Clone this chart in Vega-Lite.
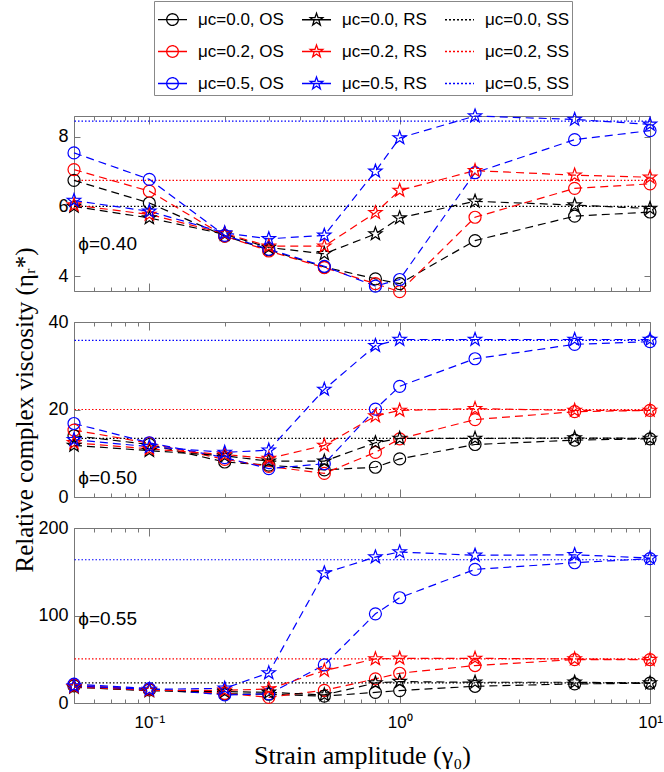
{
  "$schema": "https://vega.github.io/schema/vega-lite/v6.json",
  "padding": {"left": 12, "top": 0, "right": 5, "bottom": 5},
  "datasets": {
    "d": [
      {"p": "0.40", "s": "μc=0.0, OS", "x": [0.05,0.1,0.2,0.3,0.5,0.8,1,2,5,10], "y": [6.75,6.10,5.15,4.75,4.26,3.92,3.78,5.02,5.72,5.84]},
      {"p": "0.40", "s": "μc=0.2, OS", "x": [0.05,0.1,0.2,0.3,0.5,0.8,1,2,5,10], "y": [7.06,6.44,5.15,4.72,4.24,3.78,3.55,5.69,6.52,6.65]},
      {"p": "0.40", "s": "μc=0.5, OS", "x": [0.05,0.1,0.2,0.3,0.5,0.8,1,2,5,10], "y": [7.54,6.78,5.17,4.77,4.28,3.71,3.90,6.97,7.92,8.18]},
      {"p": "0.40", "s": "μc=0.0, RS", "x": [0.05,0.1,0.2,0.3,0.5,0.8,1,2,5,10], "y": [6.00,5.67,5.20,4.82,4.64,5.21,5.67,6.15,6.04,5.94]},
      {"p": "0.40", "s": "μc=0.2, RS", "x": [0.05,0.1,0.2,0.3,0.5,0.8,1,2,5,10], "y": [6.04,5.77,5.22,4.86,4.86,5.82,6.46,7.03,6.90,6.84]},
      {"p": "0.40", "s": "μc=0.5, RS", "x": [0.05,0.1,0.2,0.3,0.5,0.8,1,2,5,10], "y": [6.17,5.86,5.24,5.07,5.17,7.01,7.97,8.60,8.50,8.36]},
      {"p": "0.50", "s": "μc=0.0, OS", "x": [0.05,0.1,0.2,0.3,0.5,0.8,1,2,5,10], "y": [14.0,12.0,8.0,7.3,6.2,6.8,8.7,12.0,13.0,13.3]},
      {"p": "0.50", "s": "μc=0.2, OS", "x": [0.05,0.1,0.2,0.3,0.5,0.8,1,2,5,10], "y": [15.3,12.3,8.6,7.0,5.4,10.2,13.3,17.7,19.5,19.8]},
      {"p": "0.50", "s": "μc=0.5, OS", "x": [0.05,0.1,0.2,0.3,0.5,0.8,1,2,5,10], "y": [16.8,12.4,9.0,6.5,7.6,20.1,25.3,31.6,34.9,35.5]},
      {"p": "0.50", "s": "μc=0.0, RS", "x": [0.05,0.1,0.2,0.3,0.5,0.8,1,2,5,10], "y": [11.8,10.6,9.4,8.2,8.2,12.4,13.4,13.4,13.5,13.4]},
      {"p": "0.50", "s": "μc=0.2, RS", "x": [0.05,0.1,0.2,0.3,0.5,0.8,1,2,5,10], "y": [12.4,11.0,9.7,8.8,11.8,18.5,19.8,20.2,19.8,19.8]},
      {"p": "0.50", "s": "μc=0.5, RS", "x": [0.05,0.1,0.2,0.3,0.5,0.8,1,2,5,10], "y": [13.1,11.5,10.2,10.7,24.6,34.6,36.0,36.0,36.0,36.0]},
      {"p": "0.55", "s": "μc=0.0, OS", "x": [0.05,0.1,0.2,0.3,0.5,0.8,1,2,5,10], "y": [19.5,15.0,10.5,10.0,7.8,12.2,14.2,19.1,21.8,22.6]},
      {"p": "0.55", "s": "μc=0.2, OS", "x": [0.05,0.1,0.2,0.3,0.5,0.8,1,2,5,10], "y": [20.5,15.5,11.0,6.5,14.5,27.5,34.0,42.8,49.6,49.6]},
      {"p": "0.55", "s": "μc=0.5, OS", "x": [0.05,0.1,0.2,0.3,0.5,0.8,1,2,5,10], "y": [21.5,16.5,9.2,10.5,43.5,101.9,120.3,152.7,160.3,165.0]},
      {"p": "0.55", "s": "μc=0.0, RS", "x": [0.05,0.1,0.2,0.3,0.5,0.8,1,2,5,10], "y": [18.0,14.0,13.0,12.2,9.2,22.9,24.5,23.7,23.7,22.9]},
      {"p": "0.55", "s": "μc=0.2, RS", "x": [0.05,0.1,0.2,0.3,0.5,0.8,1,2,5,10], "y": [18.5,14.5,14.5,16.0,37.1,50.4,51.1,51.0,50.4,49.6]},
      {"p": "0.55", "s": "μc=0.5, RS", "x": [0.05,0.1,0.2,0.3,0.5,0.8,1,2,5,10], "y": [19.5,15.5,16.8,34.4,148.5,166.8,172.6,168.8,169.4,165.7]}
    ],
    "ss": [
      {"p": "0.40", "s": "μc=0.0, SS", "y": 6.0},
      {"p": "0.40", "s": "μc=0.2, SS", "y": 6.75},
      {"p": "0.40", "s": "μc=0.5, SS", "y": 8.45},
      {"p": "0.50", "s": "μc=0.0, SS", "y": 13.4},
      {"p": "0.50", "s": "μc=0.2, SS", "y": 20.0},
      {"p": "0.50", "s": "μc=0.5, SS", "y": 35.8},
      {"p": "0.55", "s": "μc=0.0, SS", "y": 22.9},
      {"p": "0.55", "s": "μc=0.2, SS", "y": 50.4},
      {"p": "0.55", "s": "μc=0.5, SS", "y": 163.7}
    ],
    "notes": [
      {"p": "0.40", "x": 0.052, "y": 4.92, "t": "ϕ=0.40"},
      {"p": "0.50", "x": 0.052, "y": 4.35, "t": "ϕ=0.50"},
      {"p": "0.55", "x": 0.052, "y": 96, "t": "ϕ=0.55"}
    ]
  },
  "spacing": 31,
  "bounds": "flush",
  "resolve": {"scale": {"color": "independent"}, "legend": {"color": "independent"}},
  "vconcat": [
    {
      "width": 576, "height": 175,
      "resolve": {"axis": {"x": "independent", "y": "independent"}},
      "layer": [
        {
          "data": {"name": "ss"},
          "transform": [{"filter": "datum.p == '0.40'"}],
          "mark": {"type": "rule", "strokeDash": [1.5, 2], "strokeWidth": 1.2},
          "encoding": {
            "y": {"field": "y", "type": "quantitative", "scale": {"domain": [3.57, 8.6], "nice": false, "zero": false}, "axis": {"values": [4, 6, 8], "title": null}},
            "color": {"field": "s", "type": "nominal",
              "scale": {"domain": ["μc=0.0, OS","μc=0.2, OS","μc=0.5, OS","μc=0.0, RS","μc=0.2, RS","μc=0.5, RS","μc=0.0, SS","μc=0.2, SS","μc=0.5, SS"], "range": ["#000000","#ff0000","#0000ff","#000000","#ff0000","#0000ff","#000000","#ff0000","#0000ff"]},
              "legend": {
                "orient": "none", "legendX": 80, "legendY": -115, "columns": 3, "title": null,
                "symbolSize": 841, "symbolStrokeWidth": 1.3, "labelFont": "Liberation Sans", "labelFontSize": 17, "labelColor": "#000000",
                "labelOffset": 10, "columnPadding": 15, "rowPadding": 8, "padding": 3, "strokeColor": "#888888", "fillColor": "#ffffff", "labelLimit": 0,
                "encode": {"symbols": {"update": {
                  "shape": {"signal": "indexof(datum.value, 'OS') >= 0 ? 'M-1,0L1,0M0.4,0A0.4,0.4,0,1,1,-0.4,0A0.4,0.4,0,1,1,0.4,0' : indexof(datum.value, 'RS') >= 0 ? 'M-1,0L1,0M0,-0.45L0.106,-0.146L0.428,-0.139L0.171,0.056L0.265,0.364L0,0.18L-0.265,0.364L-0.171,0.056L-0.428,-0.139L-0.106,-0.146Z' : 'M-1,0L1,0'"},
                  "strokeDash": {"signal": "indexof(datum.value, 'SS') >= 0 ? [2, 2] : [1, 0]"},
                  "fill": {"value": "transparent"}
                }}}
              }
            }
          }
        },
        {
          "data": {"name": "d"},
          "transform": [{"filter": "datum.p == '0.40'"}, {"flatten": ["x", "y"]}],
          "mark": {"type": "line", "strokeDash": [8, 5], "strokeWidth": 1.2},
          "encoding": {
            "x": {"field": "x", "type": "quantitative", "scale": {"type": "log", "domain": [0.05, 10], "nice": false},
              "axis": {"values": [0.05,0.06,0.07,0.08,0.09,0.1,0.2,0.3,0.4,0.5,0.6,0.7,0.8,0.9,1,2,3,4,5,6,7,8,9,10], "labels": false, "title": null,
                "tickSize": {"condition": {"test": "datum.value == 0.1 || datum.value == 1 || datum.value == 10", "value": -8}, "value": -4}}},
            "y": {"field": "y", "type": "quantitative", "axis": null},
            "color": {"field": "s", "type": "nominal"}
          }
        },
        {
          "data": {"name": "d"},
          "transform": [{"filter": "datum.p == '0.40' && indexof(datum.s, 'OS') >= 0"}, {"flatten": ["x", "y"]}],
          "mark": {"type": "point", "shape": "circle", "filled": false, "size": 144, "strokeWidth": 1.2, "opacity": 1},
          "encoding": {"x": {"field": "x", "type": "quantitative", "axis": null}, "y": {"field": "y", "type": "quantitative", "axis": null}, "color": {"field": "s", "type": "nominal"}}
        },
        {
          "data": {"name": "d"},
          "transform": [{"filter": "datum.p == '0.40' && indexof(datum.s, 'RS') >= 0"}, {"flatten": ["x", "y"]}],
          "mark": {"type": "point", "shape": "M0,-1L0.235,-0.324L0.951,-0.309L0.38,0.124L0.588,0.809L0,0.4L-0.588,0.809L-0.38,0.124L-0.951,-0.309L-0.235,-0.324Z", "filled": false, "size": 196, "strokeWidth": 1.2, "opacity": 1},
          "encoding": {"x": {"field": "x", "type": "quantitative", "axis": null}, "y": {"field": "y", "type": "quantitative", "axis": null}, "color": {"field": "s", "type": "nominal"}}
        },
        {
          "data": {"name": "notes"},
          "transform": [{"filter": "datum.p == '0.40'"}],
          "mark": {"type": "text", "align": "left", "baseline": "middle", "font": "Liberation Sans", "fontSize": 19, "color": "#000000"},
          "encoding": {"x": {"field": "x", "type": "quantitative", "axis": null}, "y": {"field": "y", "type": "quantitative", "axis": null}, "text": {"field": "t"}}
        },
        {
          "data": {"name": "notes"},
          "transform": [{"filter": "datum.p == '0.40'"}],
          "mark": {"type": "point", "opacity": 0},
          "encoding": {
            "x": {"field": "x", "type": "quantitative", "axis": {"orient": "top", "values": [0.05,0.06,0.07,0.08,0.09,0.1,0.2,0.3,0.4,0.5,0.6,0.7,0.8,0.9,1,2,3,4,5,6,7,8,9,10], "labels": false, "title": null,
                "tickSize": {"condition": {"test": "datum.value == 0.1 || datum.value == 1 || datum.value == 10", "value": -8}, "value": -4}}},
            "y": {"field": "y", "type": "quantitative", "axis": {"orient": "right", "values": [4, 6, 8], "labels": false, "title": null}}
          }
        }
      ]
    },
    {
      "width": 576, "height": 175,
      "resolve": {"axis": {"x": "independent", "y": "independent"}},
      "layer": [
        {
          "data": {"name": "ss"},
          "transform": [{"filter": "datum.p == '0.50'"}],
          "mark": {"type": "rule", "strokeDash": [1.5, 2], "strokeWidth": 1.2},
          "encoding": {
            "y": {"field": "y", "type": "quantitative", "scale": {"domain": [0, 40], "nice": false}, "axis": {"values": [0, 20, 40], "title": "Relative complex viscosity (ηᵣ*)", "titlePadding": 10, "titleFontSize": 25}},
            "color": {"field": "s", "type": "nominal",
              "scale": {"domain": ["μc=0.0, OS","μc=0.2, OS","μc=0.5, OS","μc=0.0, RS","μc=0.2, RS","μc=0.5, RS","μc=0.0, SS","μc=0.2, SS","μc=0.5, SS"], "range": ["#000000","#ff0000","#0000ff","#000000","#ff0000","#0000ff","#000000","#ff0000","#0000ff"]},
              "legend": null}
          }
        },
        {
          "data": {"name": "d"},
          "transform": [{"filter": "datum.p == '0.50'"}, {"flatten": ["x", "y"]}],
          "mark": {"type": "line", "strokeDash": [8, 5], "strokeWidth": 1.2},
          "encoding": {
            "x": {"field": "x", "type": "quantitative", "scale": {"type": "log", "domain": [0.05, 10], "nice": false},
              "axis": {"values": [0.05,0.06,0.07,0.08,0.09,0.1,0.2,0.3,0.4,0.5,0.6,0.7,0.8,0.9,1,2,3,4,5,6,7,8,9,10], "labels": false, "title": null,
                "tickSize": {"condition": {"test": "datum.value == 0.1 || datum.value == 1 || datum.value == 10", "value": -8}, "value": -4}}},
            "y": {"field": "y", "type": "quantitative", "axis": null},
            "color": {"field": "s", "type": "nominal", "legend": null}
          }
        },
        {
          "data": {"name": "d"},
          "transform": [{"filter": "datum.p == '0.50' && indexof(datum.s, 'OS') >= 0"}, {"flatten": ["x", "y"]}],
          "mark": {"type": "point", "shape": "circle", "filled": false, "size": 144, "strokeWidth": 1.2, "opacity": 1},
          "encoding": {"x": {"field": "x", "type": "quantitative", "axis": null}, "y": {"field": "y", "type": "quantitative", "axis": null}, "color": {"field": "s", "type": "nominal", "legend": null}}
        },
        {
          "data": {"name": "d"},
          "transform": [{"filter": "datum.p == '0.50' && indexof(datum.s, 'RS') >= 0"}, {"flatten": ["x", "y"]}],
          "mark": {"type": "point", "shape": "M0,-1L0.235,-0.324L0.951,-0.309L0.38,0.124L0.588,0.809L0,0.4L-0.588,0.809L-0.38,0.124L-0.951,-0.309L-0.235,-0.324Z", "filled": false, "size": 196, "strokeWidth": 1.2, "opacity": 1},
          "encoding": {"x": {"field": "x", "type": "quantitative", "axis": null}, "y": {"field": "y", "type": "quantitative", "axis": null}, "color": {"field": "s", "type": "nominal", "legend": null}}
        },
        {
          "data": {"name": "notes"},
          "transform": [{"filter": "datum.p == '0.50'"}],
          "mark": {"type": "text", "align": "left", "baseline": "middle", "font": "Liberation Sans", "fontSize": 19, "color": "#000000"},
          "encoding": {"x": {"field": "x", "type": "quantitative", "axis": null}, "y": {"field": "y", "type": "quantitative", "axis": null}, "text": {"field": "t"}}
        },
        {
          "data": {"name": "notes"},
          "transform": [{"filter": "datum.p == '0.50'"}],
          "mark": {"type": "point", "opacity": 0},
          "encoding": {
            "x": {"field": "x", "type": "quantitative", "axis": {"orient": "top", "values": [0.05,0.06,0.07,0.08,0.09,0.1,0.2,0.3,0.4,0.5,0.6,0.7,0.8,0.9,1,2,3,4,5,6,7,8,9,10], "labels": false, "title": null,
                "tickSize": {"condition": {"test": "datum.value == 0.1 || datum.value == 1 || datum.value == 10", "value": -8}, "value": -4}}},
            "y": {"field": "y", "type": "quantitative", "axis": {"orient": "right", "values": [0, 20, 40], "labels": false, "title": null}}
          }
        }
      ]
    },
    {
      "width": 576, "height": 175,
      "resolve": {"axis": {"x": "independent", "y": "independent"}},
      "layer": [
        {
          "data": {"name": "ss"},
          "transform": [{"filter": "datum.p == '0.55'"}],
          "mark": {"type": "rule", "strokeDash": [1.5, 2], "strokeWidth": 1.2},
          "encoding": {
            "y": {"field": "y", "type": "quantitative", "scale": {"domain": [0, 200], "nice": false}, "axis": {"values": [0, 100, 200], "title": null}},
            "color": {"field": "s", "type": "nominal",
              "scale": {"domain": ["μc=0.0, OS","μc=0.2, OS","μc=0.5, OS","μc=0.0, RS","μc=0.2, RS","μc=0.5, RS","μc=0.0, SS","μc=0.2, SS","μc=0.5, SS"], "range": ["#000000","#ff0000","#0000ff","#000000","#ff0000","#0000ff","#000000","#ff0000","#0000ff"]},
              "legend": null}
          }
        },
        {
          "data": {"name": "d"},
          "transform": [{"filter": "datum.p == '0.55'"}, {"flatten": ["x", "y"]}],
          "mark": {"type": "line", "strokeDash": [8, 5], "strokeWidth": 1.2},
          "encoding": {
            "x": {"field": "x", "type": "quantitative", "scale": {"type": "log", "domain": [0.05, 10], "nice": false},
              "axis": {"values": [0.05,0.06,0.07,0.08,0.09,0.1,0.2,0.3,0.4,0.5,0.6,0.7,0.8,0.9,1,2,3,4,5,6,7,8,9,10], "title": "Strain amplitude (γ₀)", "titlePadding": 8,
                "labelExpr": "datum.value == 0.1 ? '10⁻¹' : datum.value == 1 ? '10⁰' : datum.value == 10 ? '10¹' : ''",
                "labelOverlap": false, "labelFlush": false, "labelFontSize": 17, "labelPadding": 19,
                "tickSize": {"condition": {"test": "datum.value == 0.1 || datum.value == 1 || datum.value == 10", "value": -8}, "value": -4}}},
            "y": {"field": "y", "type": "quantitative", "axis": null},
            "color": {"field": "s", "type": "nominal", "legend": null}
          }
        },
        {
          "data": {"name": "d"},
          "transform": [{"filter": "datum.p == '0.55' && indexof(datum.s, 'OS') >= 0"}, {"flatten": ["x", "y"]}],
          "mark": {"type": "point", "shape": "circle", "filled": false, "size": 144, "strokeWidth": 1.2, "opacity": 1},
          "encoding": {"x": {"field": "x", "type": "quantitative", "axis": null}, "y": {"field": "y", "type": "quantitative", "axis": null}, "color": {"field": "s", "type": "nominal", "legend": null}}
        },
        {
          "data": {"name": "d"},
          "transform": [{"filter": "datum.p == '0.55' && indexof(datum.s, 'RS') >= 0"}, {"flatten": ["x", "y"]}],
          "mark": {"type": "point", "shape": "M0,-1L0.235,-0.324L0.951,-0.309L0.38,0.124L0.588,0.809L0,0.4L-0.588,0.809L-0.38,0.124L-0.951,-0.309L-0.235,-0.324Z", "filled": false, "size": 196, "strokeWidth": 1.2, "opacity": 1},
          "encoding": {"x": {"field": "x", "type": "quantitative", "axis": null}, "y": {"field": "y", "type": "quantitative", "axis": null}, "color": {"field": "s", "type": "nominal", "legend": null}}
        },
        {
          "data": {"name": "notes"},
          "transform": [{"filter": "datum.p == '0.55'"}],
          "mark": {"type": "text", "align": "left", "baseline": "middle", "font": "Liberation Sans", "fontSize": 19, "color": "#000000"},
          "encoding": {"x": {"field": "x", "type": "quantitative", "axis": null}, "y": {"field": "y", "type": "quantitative", "axis": null}, "text": {"field": "t"}}
        },
        {
          "data": {"name": "notes"},
          "transform": [{"filter": "datum.p == '0.55'"}],
          "mark": {"type": "point", "opacity": 0},
          "encoding": {
            "x": {"field": "x", "type": "quantitative", "axis": {"orient": "top", "values": [0.05,0.06,0.07,0.08,0.09,0.1,0.2,0.3,0.4,0.5,0.6,0.7,0.8,0.9,1,2,3,4,5,6,7,8,9,10], "labels": false, "title": null,
                "tickSize": {"condition": {"test": "datum.value == 0.1 || datum.value == 1 || datum.value == 10", "value": -8}, "value": -4}}},
            "y": {"field": "y", "type": "quantitative", "axis": {"orient": "right", "values": [0, 100, 200], "labels": false, "title": null}}
          }
        }
      ]
    }
  ],
  "config": {
    "view": {"stroke": "#777777", "strokeWidth": 1},
    "axis": {
      "grid": false, "domain": false, "tickColor": "#777777", "tickWidth": 1, "tickSize": -6,
      "labelFont": "Liberation Sans", "labelFontSize": 18, "labelColor": "#000000", "labelPadding": 12,
      "titleFont": "Liberation Serif", "titleFontSize": 26, "titleFontWeight": "normal", "titleColor": "#000000"
    }
  }
}
